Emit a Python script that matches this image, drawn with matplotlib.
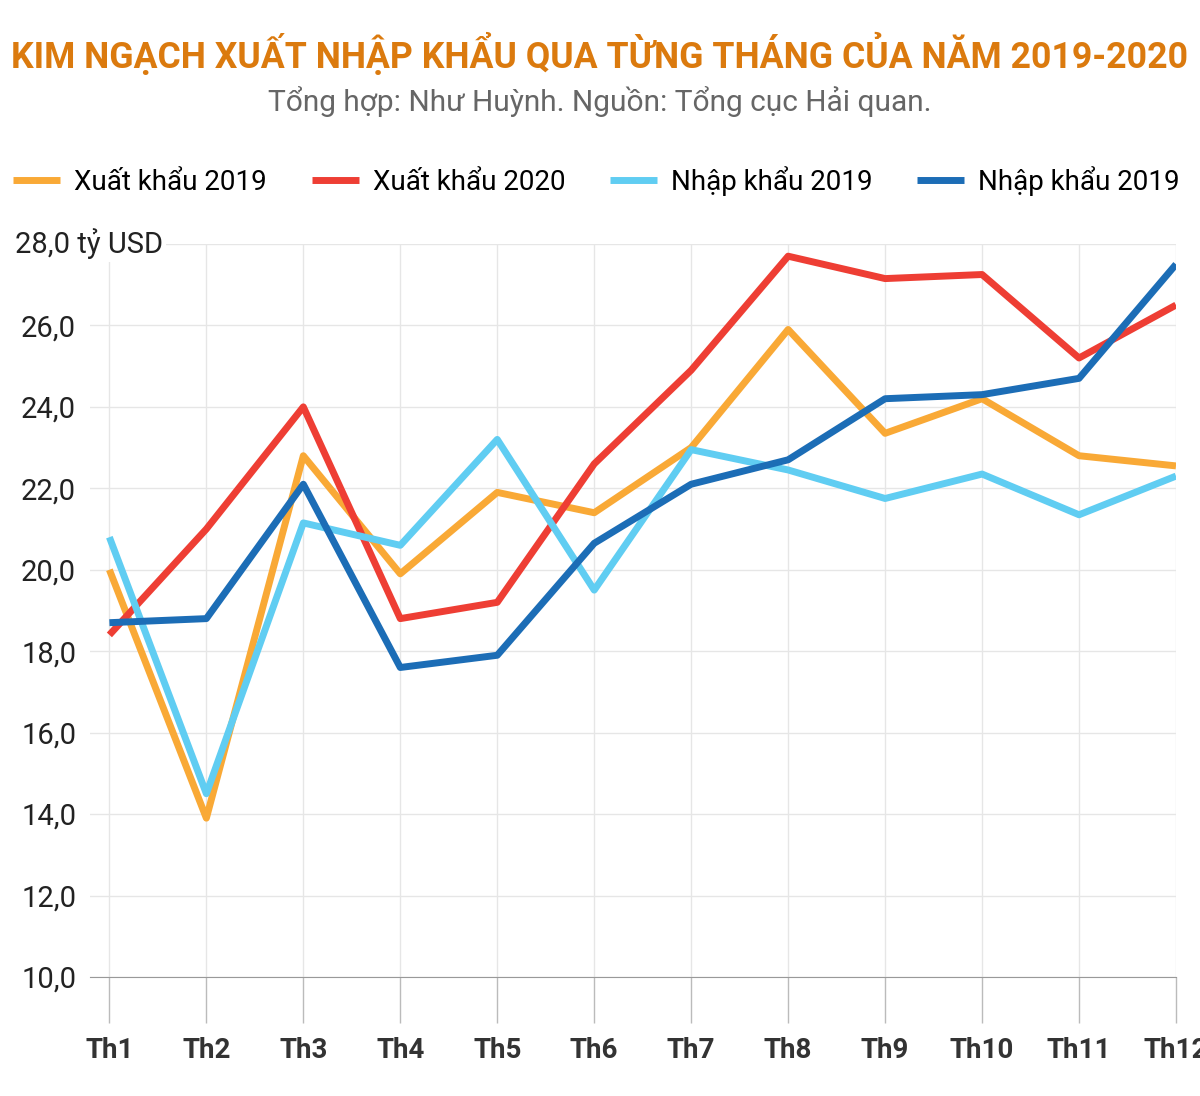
import numpy as np
import matplotlib.pyplot as plt

plt.rcParams['font.family'] = ['Roboto', 'DejaVu Sans']

months = ['Th1', 'Th2', 'Th3', 'Th4', 'Th5', 'Th6', 'Th7', 'Th8', 'Th9', 'Th10', 'Th11', 'Th12']
xk_2019 = [20.0, 13.9, 22.8, 19.9, 21.9, 21.4, 23.0, 25.9, 23.35, 24.2, 22.8, 22.55]
xk_2020 = [18.4, 21.0, 24.0, 18.8, 19.2, 22.6, 24.9, 27.7, 27.15, 27.25, 25.2, 26.5]
nk_2019 = [20.8, 14.5, 21.15, 20.6, 23.2, 19.5, 22.95, 22.45, 21.75, 22.35, 21.35, 22.3]
nk_2019b = [18.7, 18.8, 22.1, 17.6, 17.9, 20.65, 22.1, 22.7, 24.2, 24.3, 24.7, 27.5]

series = [
    ('Xuất khẩu 2019', xk_2019, '#F9A936'),
    ('Xuất khẩu 2020', xk_2020, '#EE3E34'),
    ('Nhập khẩu 2019', nk_2019, '#60CDF2'),
    ('Nhập khẩu 2019', nk_2019b, '#1C6DB6'),
]

fig = plt.figure(figsize=(12, 10.96), dpi=100)
ax = fig.add_axes([0.075, 0.1086, 0.905, 0.6688])
x = np.arange(len(months))
for name, vals, col in series:
    ax.plot(x, vals, color=col, lw=5, label=name, solid_capstyle='butt')

ax.set_xlim(-0.2, 11)
ax.set_ylim(10, 28)
yt = np.arange(10, 28.1, 2)
ax.set_yticks(yt)
ax.set_yticklabels([f'{v:.1f}'.replace('.', ',') if v < 28 else '' for v in yt],
                   fontsize=21, color='#222222')
ax.set_xticks(x)
ax.set_xticklabels(months, fontsize=20, fontweight='bold', color='#333333')
ax.tick_params(axis='x', length=33, color='#bbbbbb', width=1, pad=10)
ax.tick_params(axis='y', length=0, pad=10)
ax.grid(True, color='#e6e6e6', lw=1)
ax.set_axisbelow(True)
for s in ['top', 'right', 'left']:
    ax.spines[s].set_visible(False)
ax.spines['bottom'].set_color('#999999')
ax.text(-0.97, 28, '28,0 tỷ USD', fontsize=21, color='#222222', ha='left', va='center',
        bbox=dict(facecolor='white', edgecolor='none', pad=2))

fig.text(0.5, 0.95, 'KIM NGẠCH XUẤT NHẬP KHẨU QUA TỪNG THÁNG CỦA NĂM 2019-2020',
         ha='center', va='center', fontsize=25.7, fontweight='bold', color='#DB7A0E')
fig.text(0.5, 0.907, 'Tổng hợp: Như Huỳnh. Nguồn: Tổng cục Hải quan.',
         ha='center', va='center', fontsize=21.5, color='#666666')
fig.legend(loc='center', bbox_to_anchor=(0.497, 0.835), ncol=4, frameon=False,
           fontsize=20, handlelength=1.7, columnspacing=1.6, handletextpad=0.5)

plt.savefig('out.png', dpi=100)
